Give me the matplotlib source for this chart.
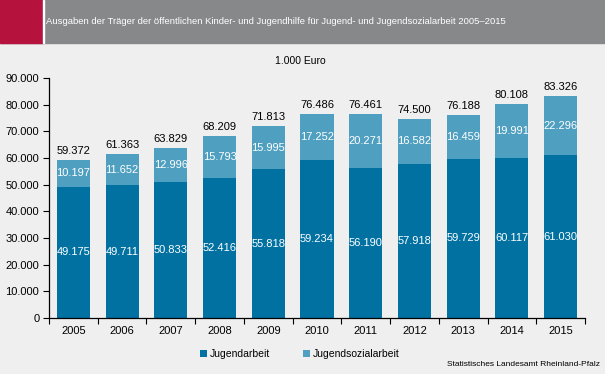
import matplotlib
matplotlib.use("Agg")
import matplotlib.pyplot as plt
from matplotlib.patches import Rectangle
from matplotlib.ticker import FuncFormatter, FixedLocator
import numpy as np

years = ["2005", "2006", "2007", "2008", "2009", "2010", "2011", "2012", "2013", "2014", "2015"]
jugendarbeit = [49175, 49711, 50833, 52416, 55818, 59234, 56190, 57918, 59729, 60117, 61030]
jugendsozialarbeit = [10197, 11652, 12996, 15793, 15995, 17252, 20271, 16582, 16459, 19991, 22296]
totals = [59372, 61363, 63829, 68209, 71813, 76486, 76461, 74500, 76188, 80108, 83326]

c_dark = "#0071a1"
c_light = "#4f9fc1"
bg = "#eeefee"

def de(v):
    return f"{int(v):,}".replace(",", ".")

fig = plt.figure(figsize=(6.05, 3.74), dpi=100, facecolor=bg)
plt.rcParams['font.family'] = ['Liberation Sans', 'DejaVu Sans']

# header band
fig.patches.append(Rectangle((0, 1 - 43/374), 1, 43/374, transform=fig.transFigure, color="#878889", zorder=0))
fig.patches.append(Rectangle((0, 1 - 43/374), 43/605, 43/374, transform=fig.transFigure, color="#b5133d", zorder=1))
fig.patches.append(Rectangle((43/605, 1 - 43/374), 1/605, 43/374, transform=fig.transFigure, color="white", zorder=1))
fig.text(46/605, 1 - 22/374, "Ausgaben der Träger der öffentlichen Kinder- und Jugendhilfe für Jugend- und Jugendsozialarbeit 2005\u20132015",
         color="white", fontsize=6.8, va="center", ha="left")

ax = fig.add_axes([49/605, 56/374, 536/605, 240/374])
ax.set_facecolor(bg)
x = np.arange(len(years))
w = 0.68
ax.bar(x, jugendarbeit, w, color=c_dark, label="Jugendarbeit", zorder=2)
ax.bar(x, jugendsozialarbeit, w, bottom=jugendarbeit, color=c_light, label="Jugendsozialarbeit", zorder=2)

for i in range(len(years)):
    ax.text(x[i], jugendarbeit[i] / 2, de(jugendarbeit[i]), ha="center", va="center", color="white", fontsize=8)
    ax.text(x[i], jugendarbeit[i] + jugendsozialarbeit[i] / 2, de(jugendsozialarbeit[i]), ha="center", va="center", color="white", fontsize=8)
    ax.text(x[i], totals[i] + 1500, de(totals[i]), ha="center", va="bottom", color="black", fontsize=8)

ax.set_xlim(-0.5, len(years) - 0.5)
ax.set_ylim(0, 90000)
ax.set_yticks(np.arange(0, 90001, 10000))
ax.yaxis.set_major_formatter(FuncFormatter(lambda v, p: de(v)))
ax.set_xticks(x)
ax.set_xticklabels(years)
ax.xaxis.set_minor_locator(FixedLocator(np.arange(-0.5, len(years), 1)))
ax.tick_params(axis="x", which="major", length=0, pad=6, labelsize=8)
ax.tick_params(axis="x", which="minor", length=4, direction="out", width=0.8)
ax.tick_params(axis="y", length=4, direction="out", width=0.8, labelsize=8, pad=3)
for s in ["top", "right"]:
    ax.spines[s].set_visible(False)
for s in ["left", "bottom"]:
    ax.spines[s].set_linewidth(0.9)

fig.text(300/605, 1 - 61/374, "1.000 Euro", ha="center", va="center", fontsize=7.5)

leg = fig.legend(loc="center", bbox_to_anchor=(300/605, 1 - 354/374), ncol=2, frameon=False, fontsize=7.5,
                 handlelength=0.6, handleheight=0.6, columnspacing=3.2, handletextpad=0.3)
fig.text(600/605, 1 - 365/374, "Statistisches Landesamt Rheinland-Pfalz", ha="right", va="center", fontsize=6)

fig.savefig("out.png", dpi=100, facecolor=bg)
